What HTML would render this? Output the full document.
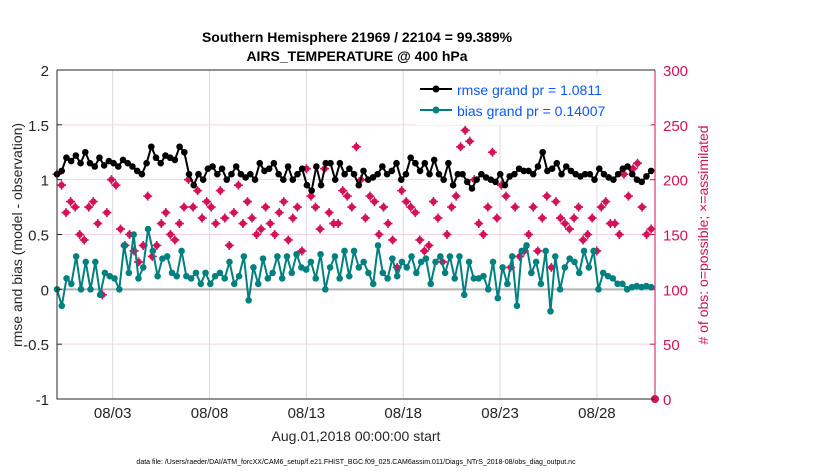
<!DOCTYPE html>
<html><head><meta charset="utf-8"><style>
body{margin:0;background:#fff;font-family:"Liberation Sans",sans-serif}
</style></head><body>
<svg id="c" width="830" height="470" xmlns="http://www.w3.org/2000/svg" font-family="Liberation Sans, sans-serif">
<text x="357" y="42" text-anchor="middle" font-size="14" font-weight="bold">Southern Hemisphere 21969 / 22104 = 99.389%</text>
<text x="357" y="61" text-anchor="middle" font-size="14" font-weight="bold">AIRS_TEMPERATURE @ 400 hPa</text>
<g id="grid"></g><g id="marks"></g><g id="axes"></g>
<text transform="translate(22,235) rotate(-90)" text-anchor="middle" font-size="14" fill="#262626">rmse and bias (model - observation)</text>
<text transform="translate(708,235) rotate(-90)" text-anchor="middle" font-size="14" fill="#d41159"># of obs: o=possible; ×=assimilated</text>
<text x="356" y="441" text-anchor="middle" font-size="14" fill="#262626">Aug.01,2018 00:00:00 start</text>
<text x="356" y="464" text-anchor="middle" font-size="7" fill="#000">data file: /Users/raeder/DAI/ATM_forcXX/CAM6_setup/f.e21.FHIST_BGC.f09_025.CAM6assim.011/Diags_NTrS_2018-08/obs_diag_output.nc</text>
<g id="legend">
<rect x="416" y="75" width="235" height="50" fill="#fff" stroke="none"/>
<line x1="420" y1="89" x2="452" y2="89" stroke="#000" stroke-width="2"/><circle cx="436" cy="89" r="3.5" fill="#000"/>
<text x="457" y="95" font-size="14" fill="#0b57ff">rmse grand pr = 1.0811</text>
<line x1="420" y1="110" x2="452" y2="110" stroke="#008080" stroke-width="2"/><circle cx="436" cy="110" r="3.5" fill="#008080"/>
<text x="457" y="116" font-size="14" fill="#0b57ff">bias grand pr = 0.14007</text>
</g>
</svg>
<script>
const rmse=[1.05,1.08,1.2,1.17,1.22,1.15,1.25,1.15,1.12,1.2,1.13,1.17,1.15,1.12,1.18,1.15,1.12,1.08,1.05,1.15,1.3,1.2,1.15,1.22,1.2,1.18,1.3,1.25,1.05,0.95,1.05,1.0,1.1,1.12,1.05,1.1,1.0,1.05,1.12,1.05,1.02,1.05,
1.0,1.15,1.08,1.1,1.15,1.05,1.0,1.12,1.0,1.05,1.1,0.95,0.9,1.12,0.95,1.15,1.15,1.0,1.15,1.05,1.1,1.05,0.95,1.08,1.0,1.02,1.05,1.12,1.05,1.08,1.15,1.0,1.05,1.2,1.15,1.08,1.15,1.05,1.18,1.05,
1.0,1.15,0.95,1.05,1.05,0.98,0.92,1.0,1.05,1.02,1.0,0.98,1.05,0.95,1.03,1.05,1.1,1.08,1.08,1.05,1.12,1.25,1.08,1.1,1.15,1.05,1.12,1.08,1.05,1.03,1.05,1.05,1.0,1.1,1.05,1.02,1.0,1.05,1.1,1.12,1.05,1.0,0.98,1.03,1.08];
const bias=[0.0,-0.15,0.1,0.05,0.3,0.0,0.25,0.0,0.25,-0.05,0.15,0.12,0.1,0.0,0.4,0.15,0.5,0.1,0.2,0.55,0.35,0.12,0.28,0.3,0.15,0.12,0.35,0.12,0.1,0.15,0.05,0.15,0.05,0.12,0.15,0.1,0.25,0.05,0.12,0.3,-0.1,0.2,
0.05,0.28,0.1,0.15,0.3,0.1,0.3,0.15,0.32,0.2,0.18,0.25,0.1,0.32,0.0,0.2,0.3,0.1,0.35,0.12,0.35,0.2,0.25,0.15,0.05,0.4,0.15,0.1,0.28,0.12,0.25,0.2,0.3,0.15,0.25,0.28,0.05,0.25,
0.3,0.15,0.3,0.1,0.3,-0.05,0.25,0.1,0.1,0.12,0.0,0.25,-0.08,0.2,0.05,0.3,-0.15,0.35,0.4,0.15,0.25,0.05,0.35,-0.2,0.3,0.0,0.2,0.28,0.25,0.15,0.35,0.2,0.35,0.0,0.15,0.12,0.1,0.05,0.05,0.0,0.02,0.03,0.02,0.03,0.02];
const obs=[205,195,170,180,175,150,145,175,180,160,95,170,200,195,155,140,150,135,125,140,185,130,140,160,170,150,145,160,175,200,175,190,165,180,175,160,190,165,140,170,195,160,
180,165,150,155,175,160,150,170,180,145,165,175,135,210,185,175,155,210,170,160,160,190,185,175,230,200,165,185,180,150,175,160,145,120,190,180,175,170,
145,135,140,180,165,125,150,175,185,230,245,235,200,160,150,175,225,165,195,185,120,175,130,135,150,175,135,165,185,120,180,165,160,155,165,175,145,150,165,135,175,180,160,160,150,205,185,210,215,175,150,155];
const yTicks=[-1,-0.5,0,0.5,1,1.5,2];
const yTickLabels=["-1","-0.5","0","0.5","1","1.5","2"];
const rTicks=[0,50,100,150,200,250,300];
const xTickDays=[2,7,12,17,22,27];
const xTickLabels=["08/03","08/08","08/13","08/18","08/23","08/28"];
const L=57,R=655,T=70,B=399,t0=-0.875,t1=30;
const X=d=>L+(d-t0)/(t1-t0)*(R-L);
const Y=v=>B-(v+1)/3*(B-T);
const YR=n=>B-n/300*(B-T);
const NS="http://www.w3.org/2000/svg";
function mk(p,tag,a){const e=document.createElementNS(NS,tag);for(const k in a)e.setAttribute(k,a[k]);p.appendChild(e);return e;}
const grid=document.getElementById('grid'),marks=document.getElementById('marks'),axes=document.getElementById('axes');
yTicks.forEach((v,i)=>{const g=mk(grid,'line',{x1:L,x2:R,y1:Y(v),y2:Y(v),stroke:'#f6d3df','stroke-width':1});


const t=mk(axes,'text',{x:L-8,y:Y(v)+6,'text-anchor':'end','font-size':15,fill:'#262626'});t.textContent=yTickLabels[i];


mk(axes,'line',{x1:L,x2:L+5,y1:Y(v),y2:Y(v),stroke:'#262626'});});
rTicks.forEach(n=>{mk(axes,'line',{x1:R-5,x2:R,y1:YR(n),y2:YR(n),stroke:'#d41159'});
const t=mk(axes,'text',{x:R+8,y:YR(n)+6,'font-size':15,fill:'#d41159'});t.textContent=n;

});
xTickDays.forEach((d,i)=>{const g=mk(grid,'line',{x1:X(d),x2:X(d),y1:T,y2:B,stroke:'#dcdcdc'});


const t=mk(axes,'text',{x:X(d),y:B+19,'text-anchor':'middle','font-size':15,fill:'#262626'});t.textContent=xTickLabels[i];

});
const zl=mk(grid,'line',{x1:L,x2:R,y1:Y(0),y2:Y(0),stroke:'#b3b3b3','stroke-width':2});


function series(vals,color,name){const n=vals.length,pts=vals.map((v,i)=>[X(t0+i*(t1-0.2-t0)/(n-1)),Y(v)]);
const pl=mk(marks,'polyline',{points:pts.map(p=>p.join(',')).join(' '),fill:'none',stroke:color,'stroke-width':2});


pts.forEach(p=>{const c=mk(marks,'circle',{cx:p[0],cy:p[1],r:3.3,fill:color});

});}
const n=obs.length;
obs.forEach((v,i)=>{const x=X(t0+i*(t1-0.2-t0)/(n-1)),y=YR(v);
const g=mk(marks,'g',{});


mk(g,'circle',{cx:x,cy:y,r:3.2,fill:'#d41159'});
mk(g,'path',{d:`M${x-4.5},${y}H${x+4.5}M${x},${y-4.5}V${y+4.5}`,stroke:'#d41159','stroke-width':1.6});});
series(rmse,'#000','rmse');
series(bias,'#008080','bias');
const d1=mk(marks,'circle',{cx:R,cy:B,r:4,fill:'#d41159'});


const fr=mk(axes,'path',{d:`M${L},${T}V${B}H${R}`,fill:'none',stroke:'#262626'});


const ra=mk(axes,'line',{x1:R,x2:R,y1:T,y2:B,stroke:'#d41159'});


const ta=mk(axes,'line',{x1:L,x2:R,y1:T,y2:T,stroke:'#262626'});


</script>
</body></html>
